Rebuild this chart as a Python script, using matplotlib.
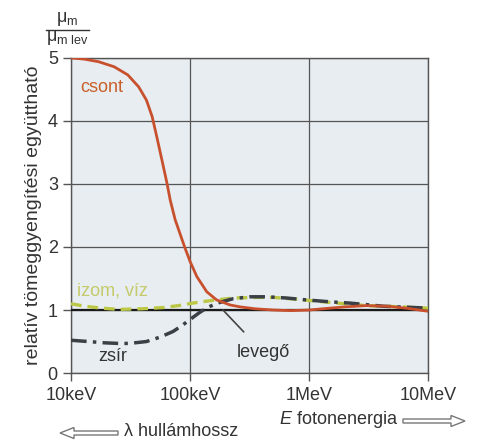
import numpy as np
import matplotlib
matplotlib.use("Agg")
import matplotlib.pyplot as plt
from matplotlib.patches import FancyArrow
from matplotlib.lines import Line2D

plt.rcParams['font.family'] = ['Liberation Sans', 'DejaVu Sans']
plt.rcParams['mathtext.fontset'] = 'custom'
plt.rcParams['mathtext.rm'] = 'Liberation Sans'
plt.rcParams['mathtext.it'] = 'Liberation Sans:italic'

# ---- data (energy in keV) ----
bone_E = [10, 13, 17, 23, 30, 37, 43, 48, 52.5, 58, 64, 68, 75, 82, 90, 100, 114, 138, 167, 217, 263,
          350, 500, 700, 1000, 1500, 2000, 3000, 4500, 6500, 10000]
bone_v = [5.0, 4.98, 4.94, 4.86, 4.73, 4.54, 4.33, 4.07, 3.75, 3.38, 3.01, 2.75, 2.43, 2.22, 2.0, 1.77, 1.53,
          1.29, 1.16, 1.08, 1.05, 1.02, 1.0, 0.99, 1.0, 1.03, 1.05, 1.07, 1.06, 1.03, 0.98]

fat_E = [10, 14, 19, 25, 31, 43, 56, 72, 85, 100, 120, 140, 170, 230, 320, 440, 650, 950, 1500, 2200, 4200, 10000]
fat_v = [0.52, 0.5, 0.48, 0.47, 0.47, 0.5, 0.57, 0.66, 0.75, 0.85, 0.96, 1.04, 1.11, 1.18, 1.21, 1.21, 1.19,
         1.16, 1.13, 1.11, 1.06, 1.03]

muscle_E = [10, 13, 18, 25, 40, 60, 80, 105, 150, 230, 350, 500, 800, 1500, 3000, 6000, 10000]
muscle_v = [1.1, 1.06, 1.03, 1.01, 1.02, 1.04, 1.07, 1.11, 1.15, 1.19, 1.2, 1.2, 1.17, 1.12, 1.07, 1.05, 1.03]

air_E = [10, 10000]
air_v = [1.0, 1.0]

xticks = [10, 100, 1000, 10000]
xticklabels = ['10keV', '100keV', '1MeV', '10MeV']
yticks = [0, 1, 2, 3, 4, 5]

txt = '#333333'
fig = plt.figure(figsize=(4.8, 4.42), dpi=100)
ax = fig.add_axes([0.148, 0.156, 0.744, 0.713])
ax.set_facecolor('#e7edf1')
ax.set_xscale('log')
ax.set_xlim(10, 10000)
ax.set_ylim(0, 5)
ax.set_xticks(xticks)
ax.set_xticklabels(xticklabels)
ax.set_yticks(yticks)
ax.minorticks_off()
ax.tick_params(axis='both', labelsize=13, colors='#555555', labelcolor=txt, length=6, width=1)
ax.tick_params(axis='x', pad=4)
ax.grid(True, color='#555555', lw=0.9)
for s in ax.spines.values():
    s.set_color('#555555')
    s.set_linewidth(1)

ax.plot(air_E, air_v, color='#1a1a1a', lw=1.6, zorder=3)
ax.plot(muscle_E, muscle_v, color='#bcc845', lw=2.4, dashes=(3.2, 1.8), zorder=4)
ax.plot(fat_E, fat_v, color='#3b4046', lw=2.5, dashes=(4.5, 1.8, 1.0, 1.8), zorder=5)
ax.plot(bone_E, bone_v, color='#c8502d', lw=2.0, zorder=6)

ax.text(0.025, 0.905, 'csont', transform=ax.transAxes, color='#c8602a', fontsize=13, ha='left', va='center')
ax.text(0.018, 0.26, 'izom, víz', transform=ax.transAxes, color='#c5cb6a', fontsize=13, ha='left', va='center')
ax.text(0.075, 0.054, 'zsír', transform=ax.transAxes, color=txt, fontsize=13, ha='left', va='center')
ax.annotate('levegő', xy=(189, 1.0), xytext=(410, 0.33), textcoords='data',
            fontsize=13, color=txt, ha='center', va='center',
            arrowprops=dict(arrowstyle='-', color='#444444', lw=1.2, shrinkA=9, shrinkB=0))

ax.set_ylabel('relatív tömeggyengítési együttható', fontsize=14, color=txt, labelpad=4)

# fraction label
fig.text(67/480, 1 - 19/442, 'μ$_\\mathrm{m}$', fontsize=13, color=txt, ha='center', va='center')
fig.text(67/480, 1 - 38/442, 'μ$_\\mathrm{m\\ lev}$', fontsize=13, color=txt, ha='center', va='center')
fig.add_artist(Line2D([46/480, 89/480], [1 - 30/442, 1 - 30/442], color=txt, lw=1, transform=fig.transFigure))

# axis direction notes
fig.text(398/480, 1 - 420/442, '$E$ fotonenergia', fontsize=13, color=txt, ha='right', va='center')
fig.text(124/480, 1 - 432/442, 'λ hullámhossz', fontsize=13, color=txt, ha='left', va='center')
fig.add_artist(FancyArrow(403/480, 1 - 421/442, 62/480, 0, width=4/442, head_width=11/442,
                          head_length=14/480, length_includes_head=True, transform=fig.transFigure,
                          fc='white', ec='#777777', lw=1))
fig.add_artist(FancyArrow(118/480, 1 - 433/442, -58/480, 0, width=4/442, head_width=11/442,
                          head_length=14/480, length_includes_head=True, transform=fig.transFigure,
                          fc='white', ec='#777777', lw=1))

fig.savefig('out.png', dpi=100)
